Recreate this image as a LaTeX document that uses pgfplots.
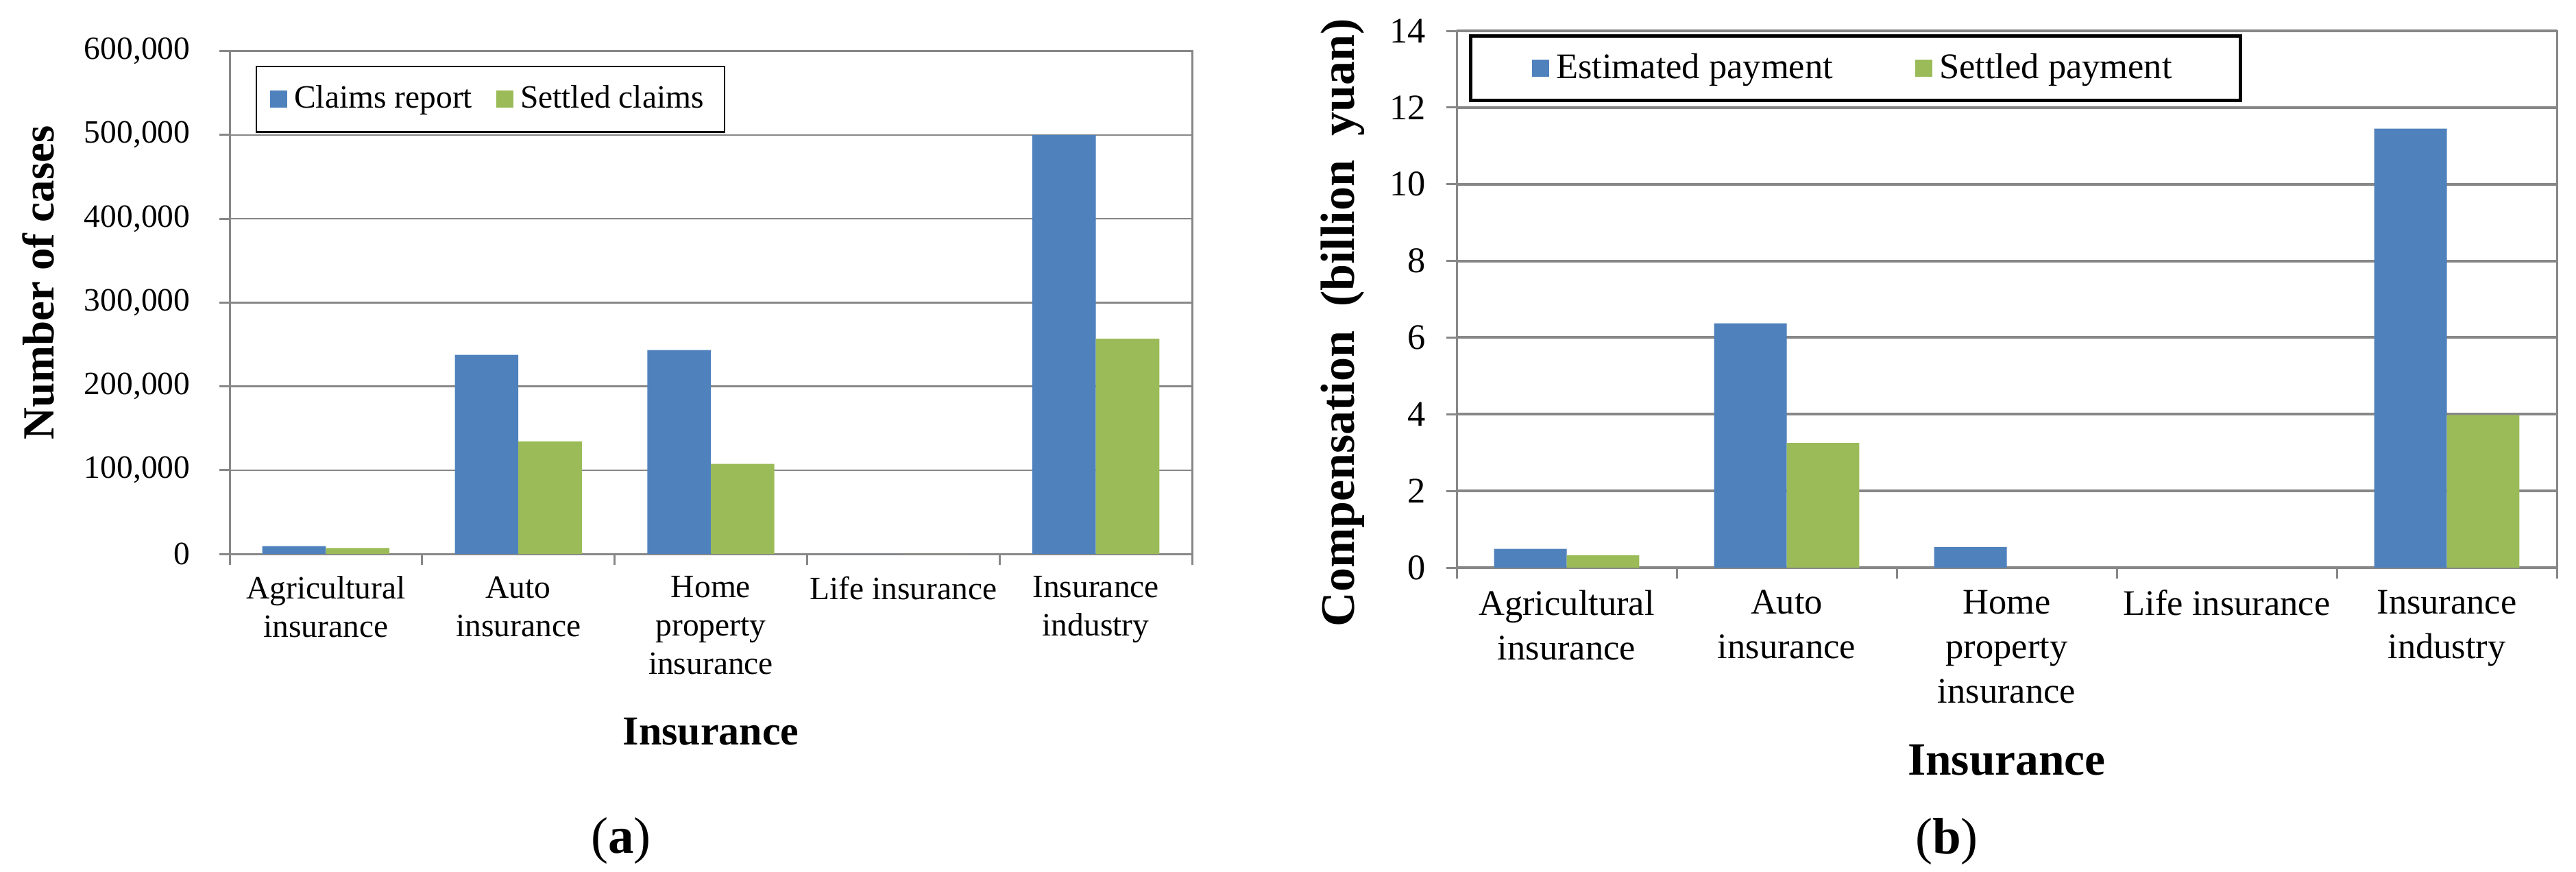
\documentclass[border=0pt]{standalone}
\usepackage{fontspec}
\setmainfont{Liberation Serif}
\usepackage{pgfplots}
\usepackage{pgfplotstable}
\pgfplotsset{compat=1.18}
\definecolor{barblue}{HTML}{4F81BD}
\definecolor{bargreen}{HTML}{9BBB59}
\definecolor{gridgray}{HTML}{878787}

\pgfplotstableread{
x claims settled
0 9400 7000
1 237600 134300
2 243200 107500
3 0 0
4 500000 256800
}\casesdata

\pgfplotstableread{
x estimated settled
0 0.49 0.32
1 6.37 3.25
2 0.54 0
3 0 0
4 11.45 3.98
}\paydata

\pgfplotsset{
 excelbar/.style={
  scale only axis, xmin=-0.5, xmax=4.5, ymin=0,
  ybar=0pt, bar width=0.33, clip=false,
  xtick={0,1,2,3,4},
  major x tick style={draw=none},
  minor xtick={-0.5,0.5,1.5,2.5,3.5,4.5},
  minor x tick style={draw=gridgray, line width=0.6pt},
  tick align=outside, tick pos=left,
  major tick length=3pt, minor tick length=3.2pt,
  ymajorgrids, grid style={draw=gridgray, line width=0.5pt},
  axis line style={draw=gridgray, line width=0.6pt},
  ytick style={draw=gridgray, line width=0.6pt},
  /pgf/number format/assume math mode=true,
  legend image code/.code={\fill[##1] (0pt,-2.5pt) rectangle (5pt,2.5pt);},
  xticklabel style={align=center},
  legend columns=2,
 }
}

\begin{document}
\begin{tikzpicture}
\path[use as bounding box] (0,0) rectangle (751.6pt,254.2pt);

\begin{axis}[excelbar,
  at={(67pt,92.6pt)}, anchor=south west,
  width=280.8pt, height=146.7pt,
  ymax=600000, ytick={0,100000,...,600000},
  scaled y ticks=false,
  y tick label style={/pgf/number format/fixed, /pgf/number format/1000 sep={,}, xshift=-5pt},
  tick label style={font=\fontsize{9.5}{11.2}\selectfont},
  xticklabels={{Agricultural\\insurance},{Auto\\insurance},{Home\\property\\insurance},{Life insurance},{Insurance\\industry}},
  every axis y label/.style={at={(axis description cs:-0.199,0.539)}, rotate=90, anchor=center},
  every axis x label/.style={at={(axis description cs:0.5,-0.353)}, anchor=center},
  ylabel={\bfseries\fontsize{13}{15}\selectfont Number of cases},
  xlabel={\bfseries\fontsize{12}{14}\selectfont Insurance},
  legend style={at={(0.027,0.971)}, anchor=north west, draw=black, line width=0.5pt,
    font=\fontsize{9.5}{11}\selectfont, inner xsep=4pt, inner ysep=3.5pt,
    /tikz/every even column/.append style={column sep=5pt}},
]
\addplot[fill=barblue, draw=none] table[x=x,y=claims]{\casesdata};
\addplot[fill=bargreen, draw=none] table[x=x,y=settled]{\casesdata};
\legend{Claims report, Settled claims}
\node[font=\fontsize{15}{18}\selectfont] at (axis description cs:0.4067,-0.571) {(\textbf{a})};
\end{axis}

\begin{axis}[excelbar,
  at={(425pt,88.6pt)}, anchor=south west,
  width=321pt, height=156.6pt,
  ymax=14, ytick={0,2,...,14},
  tick label style={font=\fontsize{10.5}{13}\selectfont},
  y tick label style={xshift=-2.5pt},
  grid style={draw=gridgray, line width=0.8pt},
  xticklabels={{Agricultural\\insurance},{Auto\\insurance},{Home\\property\\insurance},{Life insurance},{Insurance\\industry}},
  every axis y label/.style={at={(axis description cs:-0.1034,0.456)}, rotate=90, anchor=center},
  every axis x label/.style={at={(axis description cs:0.5,-0.359)}, anchor=center},
  ylabel={\bfseries\fontsize{14}{16}\selectfont Compensation\ \ (billion\ \ yuan)},
  xlabel={\bfseries\fontsize{13.5}{15}\selectfont Insurance},
  legend style={at={(0.011,0.993)}, anchor=north west, draw=black, line width=1pt,
    font=\fontsize{10.5}{12}\selectfont, inner xsep=18pt, inner ysep=3pt,
    /tikz/every even column/.append style={column sep=22pt}},
]
\addplot[fill=barblue, draw=none] table[x=x,y=estimated]{\paydata};
\addplot[fill=bargreen, draw=none] table[x=x,y=settled]{\paydata};
\legend{Estimated payment, Settled payment}
\node[font=\fontsize{15}{18}\selectfont] at (axis description cs:0.4455,-0.51) {(\textbf{b})};
\end{axis}
\end{tikzpicture}
\end{document}
